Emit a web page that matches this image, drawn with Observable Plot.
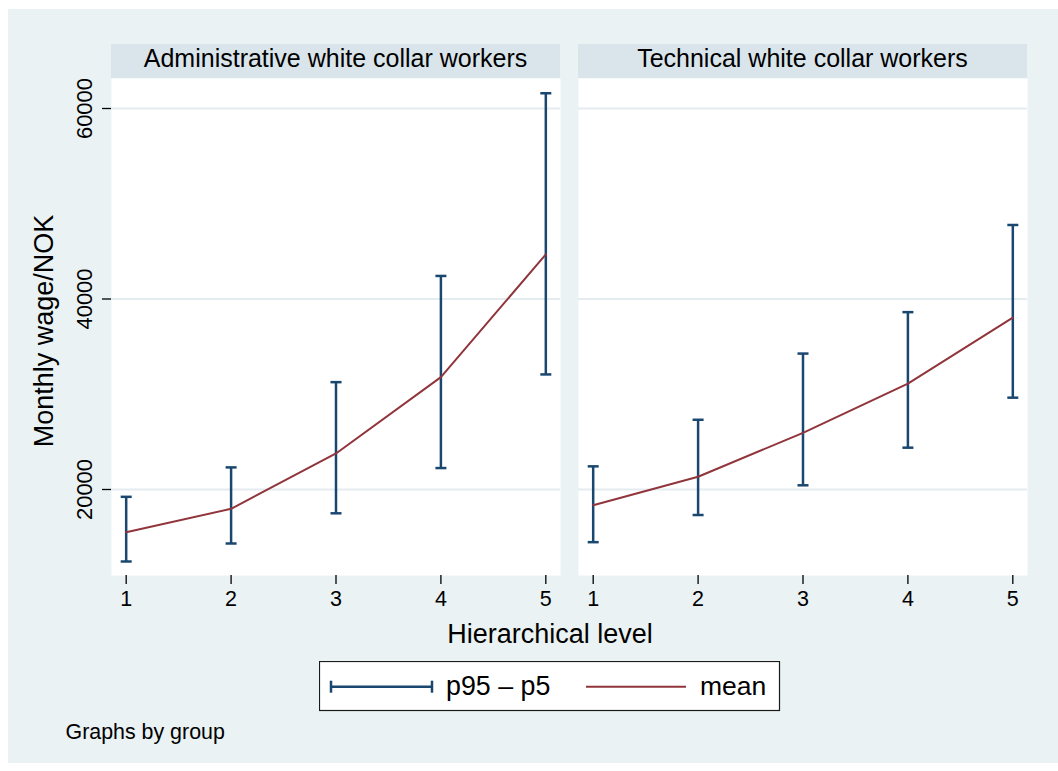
<!DOCTYPE html>
<html><head><meta charset="utf-8">
<script src="https://cdn.jsdelivr.net/npm/d3@7"></script>
<script src="https://cdn.jsdelivr.net/npm/@observablehq/plot@0.6"></script>
<style>
html,body{margin:0;padding:0;background:#fff;}
#wrap{position:relative;width:1058px;height:771px;overflow:hidden;font-family:"Liberation Sans",Arial,Helvetica,sans-serif;color:#000;}
#bg{position:absolute;left:8px;top:9px;width:1050px;height:754px;background:#eaf2f3;}
#chart{position:absolute;left:0;top:0;}
.t{position:absolute;white-space:nowrap;}
#ytitle{left:44px;top:331px;font-size:27px;line-height:27px;transform:translate(-50%,-50%) rotate(-90deg);}
#xtitle{left:550px;top:621px;font-size:27px;line-height:27px;transform:translateX(-50%);}
#note{left:65.5px;top:722px;font-size:21.4px;line-height:21px;}
#legend{position:absolute;left:319px;top:661px;}
</style></head><body>
<div id="wrap">
  <div id="bg"></div>
  <div id="chart"></div>
  <div class="t" id="ytitle">Monthly wage/NOK</div>
  <div class="t" id="xtitle">Hierarchical level</div>
  <div id="legend"></div>
  <div class="t" id="note">Graphs by group</div>
</div>
<script>
// ---- data ----
const groups = ["Administrative white collar workers", "Technical white collar workers"];
const levels = [1, 2, 3, 4, 5];
const adminMean = [15520, 17970, 23780, 31800, 44680];
const adminP5   = [12440, 14330, 17500, 22250, 32080];
const adminP95  = [19230, 22320, 31270, 42420, 61600];
const techMean  = [18340, 21340, 25940, 31120, 38040];
const techP5    = [14470, 17320, 20440, 24390, 29640];
const techP95   = [22430, 27320, 34270, 38620, 47770];
const yTicks = [20000, 40000, 60000];
const legendLabels = ["p95 \u2013 p5", "mean"];

const means = [adminMean, techMean], p5s = [adminP5, techP5], p95s = [adminP95, techP95];
const data = [];
groups.forEach((g, gi) => levels.forEach((l, i) => data.push({group: g, level: l, mean: means[gi][i], p5: p5s[gi][i], p95: p95s[gi][i]})));

const navy = "#1a476f", maroon = "#90353b";
const cap = {draw(ctx) { ctx.moveTo(-5.5, 0); ctx.lineTo(5.5, 0); }};
const font = '"Liberation Sans", Arial, Helvetica, sans-serif';

const chart = Plot.plot({
  width: 1058, height: 620,
  marginTop: 78, marginBottom: 45, marginLeft: 111, marginRight: 30,
  style: {background: "transparent", fontFamily: font, fontSize: "21.5px", color: "#000", overflow: "visible"},
  fx: {domain: groups, paddingInner: 18 / 467.5, paddingOuter: 0, axis: null, label: null},
  x: {domain: [0.86, 5.14], label: null},
  y: {domain: [10970, 63150], label: null},
  marks: [
    Plot.frame({fill: "white", stroke: "none"}),
    Plot.ruleY(yTicks, {stroke: "#e4ecef", strokeWidth: 2}),
    Plot.ruleX(data, {fx: "group", x: "level", y1: "p5", y2: "p95", stroke: navy, strokeWidth: 2.5}),
    Plot.dot(data, {fx: "group", x: "level", y: "p5", symbol: cap, stroke: navy, strokeWidth: 2.5, fill: "none"}),
    Plot.dot(data, {fx: "group", x: "level", y: "p95", symbol: cap, stroke: navy, strokeWidth: 2.5, fill: "none"}),
    Plot.line(data, {fx: "group", x: "level", y: "mean", stroke: maroon, strokeWidth: 2}),
    Plot.axisX({ticks: levels, tickFormat: d => String(d), tickSize: 9, tickPadding: 6, line: true, label: null, strokeWidth: 1.3}),
    Plot.axisY({ticks: yTicks, tickFormat: d => String(d), tickSize: 9, tickPadding: 11, tickRotate: -90, line: true, label: null, strokeWidth: 1.3, fontSize: 22})
  ]
});
document.getElementById("chart").appendChild(chart);

// strip headers
const svg = d3.select(chart);
const fxd = chart.scale("fx");
const band = d3.scaleBand(fxd.domain, fxd.range)
  .paddingInner(fxd.paddingInner ?? 0).paddingOuter(fxd.paddingOuter ?? 0)
  .align(fxd.align ?? 0.5).round(!!fxd.round);
const bw = fxd.bandwidth ?? band.bandwidth();
const hdr = svg.append("g");
groups.forEach(g => {
  const x0 = fxd.apply ? fxd.apply(g) : band(g);
  hdr.append("rect").attr("x", x0).attr("y", 44).attr("width", bw).attr("height", 34).attr("fill", "#d9e5eb");
  hdr.append("text").attr("x", x0 + bw / 2).attr("y", 67).attr("text-anchor", "middle")
    .attr("font-size", 25).attr("font-family", font).attr("fill", "#000").text(g);
});

// legend
const lg = d3.select("#legend").append("svg").attr("width", 462).attr("height", 51).style("display", "block");
lg.append("rect").attr("x", 0.5).attr("y", 0.5).attr("width", 460).attr("height", 49).attr("fill", "white").attr("stroke", "#1a1a1a").attr("stroke-width", 1.2);
lg.append("line").attr("x1", 12).attr("x2", 113).attr("y1", 25.7).attr("y2", 25.7).attr("stroke", navy).attr("stroke-width", 2.5);
lg.append("line").attr("x1", 12).attr("x2", 12).attr("y1", 19.7).attr("y2", 31.7).attr("stroke", navy).attr("stroke-width", 2.5);
lg.append("line").attr("x1", 113).attr("x2", 113).attr("y1", 19.7).attr("y2", 31.7).attr("stroke", navy).attr("stroke-width", 2.5);
lg.append("text").attr("x", 127).attr("y", 34).attr("font-size", 26.8).attr("font-family", font).text(legendLabels[0]);
lg.append("line").attr("x1", 267).attr("x2", 367).attr("y1", 25.7).attr("y2", 25.7).attr("stroke", maroon).attr("stroke-width", 2);
lg.append("text").attr("x", 381).attr("y", 34).attr("font-size", 26.5).attr("font-family", font).text(legendLabels[1]);
</script>
</body></html>
